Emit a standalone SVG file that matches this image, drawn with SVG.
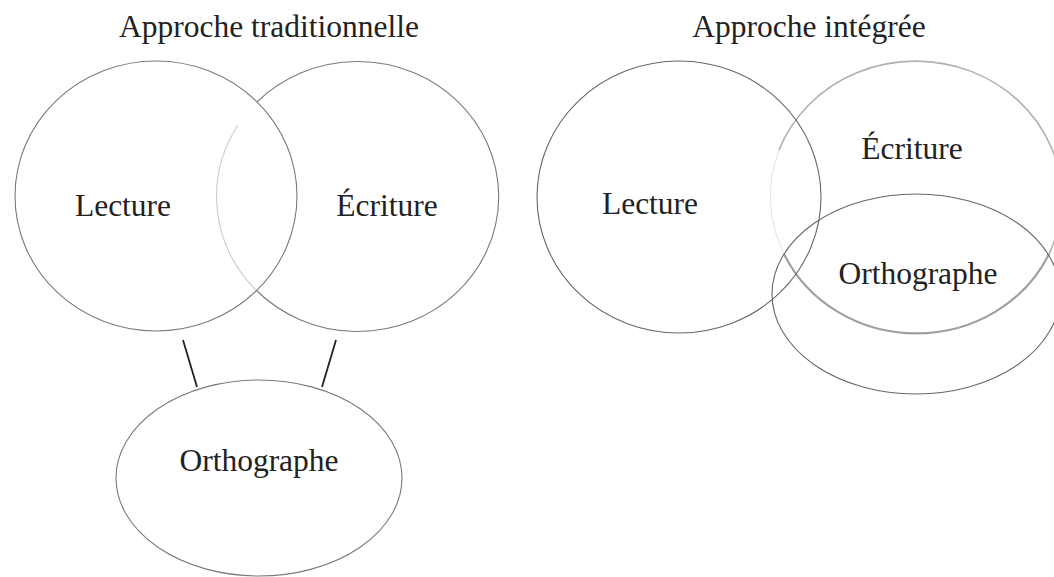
<svg xmlns="http://www.w3.org/2000/svg" width="1054" height="577" viewBox="0 0 1054 577">
<style>
  .bg { fill: #ffffff; }
  .lbl { font-family: "Liberation Serif", "Times New Roman", serif; font-size: 31.5px; fill: #222222; text-anchor: middle; }
  .ring { fill: none; stroke: #7a7a7a; stroke-width: 1.1; }
  .dark { fill: none; stroke: #666666; stroke-width: 1.1; }
  .faint { fill: none; stroke: #cccccc; stroke-width: 1.1; }
  .veryfaint { fill: none; stroke: #e6e6e6; stroke-width: 1.1; }
  .grey { fill: none; stroke: #b0b0b0; stroke-width: 1.6; }
  .greythick { fill: none; stroke: #a0a0a0; stroke-width: 2.2; }
  .conn { stroke: #222222; stroke-width: 1.8; fill: none; }
</style>
<rect class="bg" x="0" y="0" width="1054" height="577"/>

<g id="titles">
  <text class="lbl" x="269" y="37">Approche traditionnelle</text>
  <text class="lbl" x="809" y="37">Approche intégrée</text>
</g>

<!-- Left figure: traditional approach -->
<g id="trad-lecture">
  <ellipse class="ring" cx="156" cy="196" rx="141" ry="135"/>
  <text class="lbl" x="123" y="216">Lecture</text>
</g>
<g id="trad-ecriture">
  <path class="ring" d="M 257 102 A 141 135 0 1 1 256 290"/>
  <path class="faint" d="M 238 125 A 141 135 0 0 0 256 290"/>
  <text class="lbl" x="387" y="216">Écriture</text>
</g>
<g id="trad-orthographe">
  <ellipse class="ring" cx="259" cy="478" rx="143" ry="98"/>
  <text class="lbl" x="259" y="471">Orthographe</text>
</g>

<g id="connectors">
  <line class="conn" x1="183" y1="340" x2="197" y2="387"/>
  <line class="conn" x1="336" y1="340" x2="322" y2="387"/>
</g>

<!-- Right figure: integrated approach -->
<g id="int-ecriture">
  <path class="grey" d="M 1049 254 A 146 137 0 1 0 779 150"/>
  <path class="veryfaint" d="M 779 150 A 146 137 0 0 0 784 254"/>
  <path class="greythick" d="M 784 254 A 146 137 0 0 0 1049 254"/>
  <text class="lbl" x="912" y="159">Écriture</text>
</g>
<g id="int-orthographe">
  <ellipse class="dark" cx="916" cy="294" rx="144" ry="100"/>
  <text class="lbl" x="918" y="284">Orthographe</text>
</g>
<g id="int-lecture">
  <ellipse class="dark" cx="679" cy="197" rx="142" ry="136"/>
  <text class="lbl" x="650" y="214">Lecture</text>
</g>
</svg>
